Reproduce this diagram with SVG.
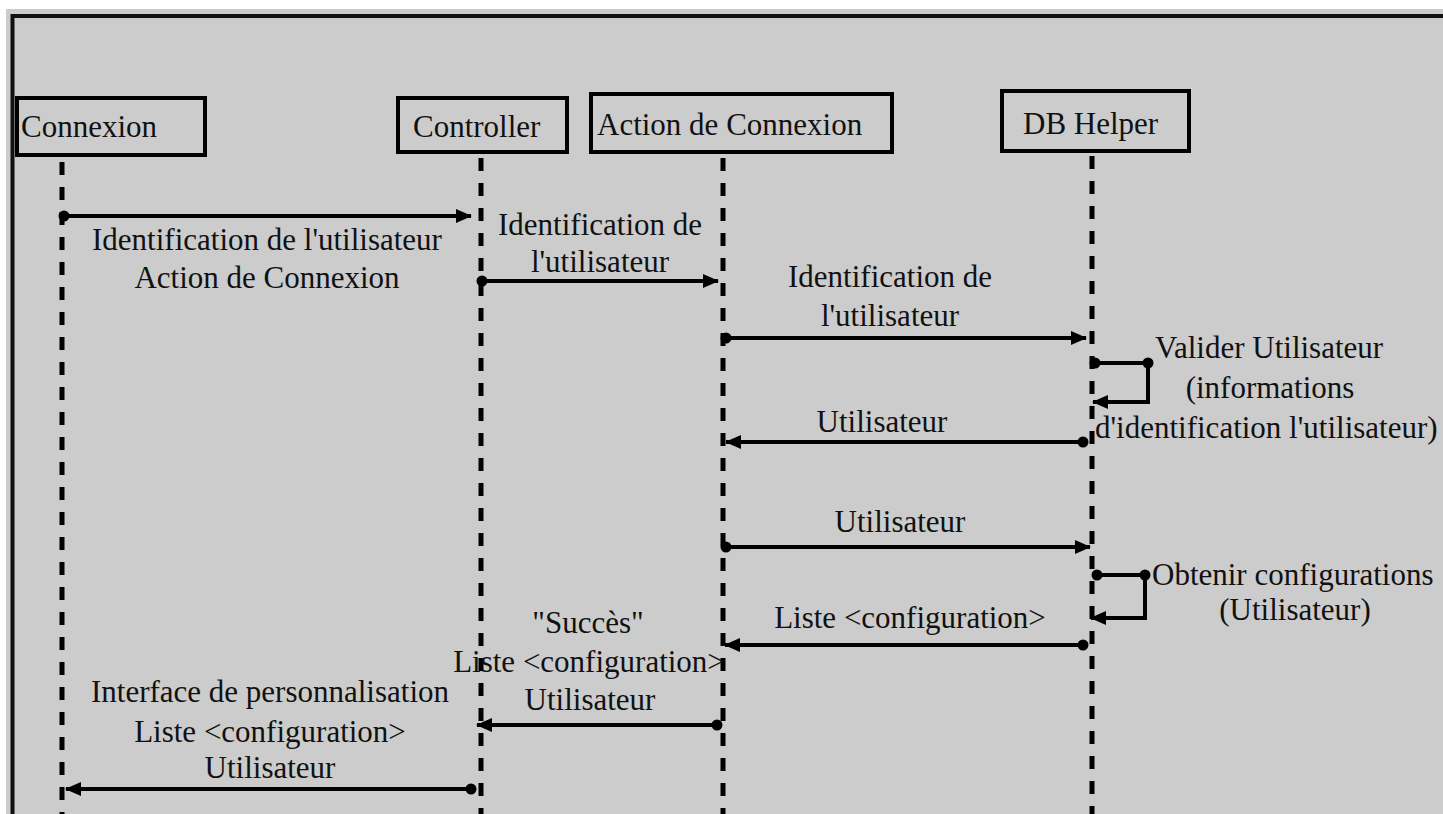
<svg xmlns="http://www.w3.org/2000/svg" width="1443" height="814" viewBox="0 0 1443 814">
  <style>
    .lbl { font-family: "Liberation Serif", "Times New Roman", serif; font-size: 31px; fill: #111; }
    .mid { text-anchor: middle; }
    .box { fill: none; stroke: #000; stroke-width: 4; }
    .life { stroke: #000; stroke-width: 5; stroke-dasharray: 13 12; fill: none; }
    .msg { stroke: #000; stroke-width: 4; fill: none; marker-end: url(#arrow); }
    .dot { fill: #000; }
  </style>
  <defs>
    <marker id="arrow" viewBox="0 0 16 14" refX="15" refY="7" markerWidth="16" markerHeight="14" markerUnits="userSpaceOnUse" orient="auto">
      <path d="M0,0 L16,7 L0,14 z" fill="#000"/>
    </marker>
  </defs>

  <!-- page and frame -->
  <rect x="0" y="0" width="1443" height="814" fill="#ffffff"/>
  <rect x="6" y="9" width="1437" height="805" fill="#cccccc"/>
  <path d="M12.5,814 V16 H1443" fill="none" stroke="#111" stroke-width="4"/>

  <!-- lifelines -->
  <g id="lifelines">
    <line class="life" x1="62" y1="162" x2="62" y2="814"/>
    <line class="life" x1="481" y1="158" x2="481" y2="814"/>
    <line class="life" x1="723" y1="158" x2="723" y2="814"/>
    <line class="life" x1="1092" y1="156" x2="1092" y2="814"/>
  </g>

  <!-- participants -->
  <g id="connexion">
    <rect class="box" x="17" y="98" width="188" height="57"/>
    <text class="lbl" x="21" y="137">Connexion</text>
  </g>
  <g id="controller">
    <rect class="box" x="398" y="98" width="169" height="54"/>
    <text class="lbl" x="413" y="137">Controller</text>
  </g>
  <g id="action-connexion">
    <rect class="box" x="591" y="94" width="301" height="58"/>
    <text class="lbl" x="597" y="135">Action de Connexion</text>
  </g>
  <g id="db-helper">
    <rect class="box" x="1002" y="91" width="187" height="60"/>
    <text class="lbl" x="1023" y="134">DB Helper</text>
  </g>

  <!-- messages -->
  <g id="connectors">
    <!-- Connexion -> Controller -->
    <circle class="dot" cx="64" cy="216" r="5.5"/>
    <line class="msg" x1="64" y1="216" x2="471" y2="216"/>
    <!-- Controller -> Action de Connexion -->
    <circle class="dot" cx="482" cy="281" r="5.5"/>
    <line class="msg" x1="482" y1="281" x2="718" y2="281"/>
    <!-- Action de Connexion -> DB Helper -->
    <circle class="dot" cx="726" cy="338" r="5.5"/>
    <line class="msg" x1="726" y1="338" x2="1086" y2="338"/>
    <!-- self call: validation -->
    <circle class="dot" cx="1095" cy="363" r="5.5"/>
    <circle class="dot" cx="1148" cy="363" r="5.5"/>
    <path class="msg" d="M1095,363 H1148 V402 H1093"/>
    <!-- DB Helper -> Action de Connexion -->
    <circle class="dot" cx="1083" cy="442" r="5.5"/>
    <line class="msg" x1="1083" y1="442" x2="726" y2="442"/>
    <!-- Action de Connexion -> DB Helper -->
    <circle class="dot" cx="726" cy="547" r="5.5"/>
    <line class="msg" x1="726" y1="547" x2="1090" y2="547"/>
    <!-- self call: configurations -->
    <circle class="dot" cx="1097" cy="575" r="5.5"/>
    <circle class="dot" cx="1145" cy="575" r="5.5"/>
    <path class="msg" d="M1097,575 H1145 V618 H1091"/>
    <!-- DB Helper -> Action de Connexion -->
    <circle class="dot" cx="1083" cy="645" r="5.5"/>
    <line class="msg" x1="1083" y1="645" x2="725" y2="645"/>
    <!-- Action de Connexion -> Controller -->
    <circle class="dot" cx="717" cy="725" r="5.5"/>
    <line class="msg" x1="717" y1="725" x2="477" y2="725"/>
    <!-- Controller -> Connexion -->
    <circle class="dot" cx="471" cy="789" r="5.5"/>
    <line class="msg" x1="471" y1="789" x2="66" y2="789"/>
  </g>

  <!-- message labels -->
  <g id="labels">
    <text class="lbl mid" x="267" y="250">Identification de l'utilisateur</text>
    <text class="lbl mid" x="267" y="288">Action de Connexion</text>

    <text class="lbl mid" x="600" y="235">Identification de</text>
    <text class="lbl mid" x="600" y="272">l'utilisateur</text>

    <text class="lbl mid" x="890" y="287">Identification de</text>
    <text class="lbl mid" x="890" y="326">l'utilisateur</text>

    <text class="lbl" x="1155" y="358">Valider Utilisateur</text>
    <text class="lbl mid" x="1270" y="398">(informations</text>
    <text class="lbl" x="1095" y="438">d'identification l'utilisateur)</text>

    <text class="lbl mid" x="882" y="432">Utilisateur</text>
    <text class="lbl mid" x="900" y="532">Utilisateur</text>

    <text class="lbl" x="1152" y="585">Obtenir configurations</text>
    <text class="lbl mid" x="1295" y="620">(Utilisateur)</text>

    <text class="lbl mid" x="910" y="628">Liste &lt;configuration&gt;</text>

    <text class="lbl mid" x="588" y="633">"Succès"</text>
    <text class="lbl mid" x="589" y="672">Liste &lt;configuration&gt;</text>
    <text class="lbl mid" x="590" y="710">Utilisateur</text>

    <text class="lbl mid" x="270" y="702">Interface de personnalisation</text>
    <text class="lbl mid" x="270" y="742">Liste &lt;configuration&gt;</text>
    <text class="lbl mid" x="270" y="778">Utilisateur</text>
  </g>
</svg>
